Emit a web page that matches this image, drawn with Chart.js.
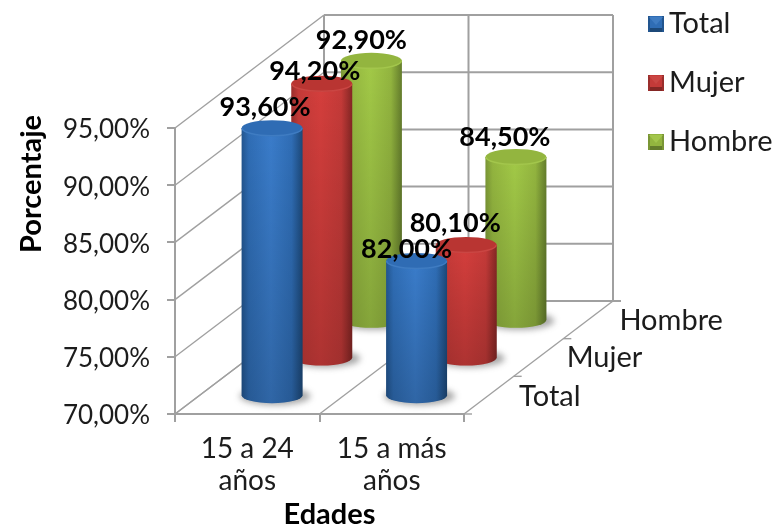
<!DOCTYPE html>
<html><head><meta charset="utf-8">
<script src="https://cdn.jsdelivr.net/npm/chart.js@4"></script>
<style>html,body{margin:0;padding:0;background:#fff}canvas{display:block}</style>
</head><body>
<canvas id="c" width="775" height="527"></canvas>
<script>
const categories = ['15 a 24|años', '15 a más|años'];
const seriesNames = ['Total', 'Mujer', 'Hombre'];
const totalValues = [93.6, 82.0];
const mujerValues = [94.2, 80.1];
const hombreValues = [92.9, 84.5];
const yTicksMin = 70, yTicksMax = 95, yTicksStep = 5;

const FONT = 'Lato, "Open Sans", sans-serif';
const TXT = '#1c1c1c', GRID = '#a0a0a0';
const DEPTH_X = 149, DEPTH_Y = 113, RY = 8, TOP_DROP = 3;
const palette = [
  {base:'#2f6db5', edgeL:'#22558f', mid:'#3a7cca', edgeR:'#1c4878', top:'#2f6cb4', rim:'#3f7cc2'},
  {base:'#c43a38', edgeL:'#9a2e2c', mid:'#d43e3c', edgeR:'#842624', top:'#b93532', rim:'#ca4643'},
  {base:'#93b53f', edgeL:'#7a9635', mid:'#a2c947', edgeR:'#647d2c', top:'#93b53f', rim:'#a3c64c'}
];
const labelNudge = [[[-7,-21],[-10,-12]],[[-7,-12],[-11,-22]],[[-10,-21],[-11,-20]]];
const depthLabelNudge = [[61,1],[66,0],[83,1]];

function fmt(v){ return v.toFixed(2).replace('.', ',') + '%'; }

function marker(p){
  const c = document.createElement('canvas'); c.width = 20; c.height = 16;
  const g = c.getContext('2d');
  g.translate(4, 0);
  g.fillStyle = p.base; g.fillRect(0,0,16,16);
  g.fillStyle = p.edgeR; g.fillRect(0,12,16,4);
  g.fillStyle = p.edgeL; g.fillRect(0,0,2,16); g.fillRect(14,0,2,16);
  g.fillStyle = p.rim; g.beginPath(); g.moveTo(1,1); g.lineTo(15,1); g.lineTo(8,9); g.closePath(); g.fill();
  return c;
}
const markers = palette.map(marker);

function line(ctx,x1,y1,x2,y2){ ctx.beginPath(); ctx.moveTo(x1,y1); ctx.lineTo(x2,y2); ctx.stroke(); }

function drawCylinder(chart, el, i){
  const ctx = chart.ctx;
  const p = palette[i];
  const f = (i + .5) / 3;
  const zero = chart.scales.y.getPixelForValue(yTicksMin);
  const cx = el.x + DEPTH_X * f;
  const by = zero - DEPTH_Y * f;
  const ty = el.y - DEPTH_Y * f + TOP_DROP;
  const rx = el.width / 2;
  ctx.save();
  ctx.filter = 'blur(3px)';
  ctx.fillStyle = 'rgba(60,60,60,.45)';
  ctx.beginPath(); ctx.ellipse(cx + 3, by + 1, rx + 5, RY + 1, 0, 0, Math.PI * 2); ctx.fill();
  ctx.restore();

  const g = ctx.createLinearGradient(cx - rx, 0, cx + rx, 0);
  g.addColorStop(0, p.edgeL); g.addColorStop(.12, p.base); g.addColorStop(.48, p.mid);
  g.addColorStop(.82, p.base); g.addColorStop(1, p.edgeR);
  ctx.beginPath();
  ctx.moveTo(cx - rx, ty);
  ctx.lineTo(cx - rx, by);
  ctx.ellipse(cx, by, rx, RY, 0, Math.PI, 0, true);
  ctx.lineTo(cx + rx, ty);
  ctx.closePath();
  ctx.fillStyle = g; ctx.fill();
  const v = ctx.createLinearGradient(0, ty, 0, by + RY);
  v.addColorStop(0, 'rgba(0,0,0,0)'); v.addColorStop(1, 'rgba(0,0,0,.18)');
  ctx.fillStyle = v; ctx.fill();

  ctx.beginPath(); ctx.ellipse(cx, ty, rx, RY, 0, 0, Math.PI * 2);
  ctx.fillStyle = p.top; ctx.fill();
  ctx.beginPath(); ctx.ellipse(cx, ty, rx - .5, RY - .5, 0, 0, Math.PI);
  ctx.strokeStyle = p.rim; ctx.lineWidth = 1.5; ctx.stroke();
}

function shiftTitle(s, dx, dy){
  if (s._shifted) return;
  s._shifted = true;
  const orig = s.drawTitle;
  s.drawTitle = function(){ const c = this.ctx; c.save(); c.translate(dx, dy); orig.apply(this, arguments); c.restore(); };
}

const plugin3d = {
  id: 'plugin3d',
  afterLayout(chart){
    chart.legend.left = 623.5; chart.legend.top = -20.5;
    chart.legend.right = 775; chart.legend.bottom = 200;
    shiftTitle(chart.scales.y, 0, -87);
    shiftTitle(chart.scales.x, 10, 5);
  },
  beforeDatasetsDraw(chart){
    const {ctx, scales:{x, y}} = chart;
    const f = y.getPixelForValue(yTicksMin);
    const t = y.getPixelForValue(yTicksMax);
    ctx.save();
    ctx.strokeStyle = GRID; ctx.lineWidth = 2;
    const edges = [x.left, (x.left + x.right) / 2, x.right];
    y.ticks.forEach(tk => {
      const py = y.getPixelForValue(tk.value);
      line(ctx, x.left + DEPTH_X, py - DEPTH_Y, x.right + DEPTH_X, py - DEPTH_Y);
    });
    edges.forEach(ex => line(ctx, ex + DEPTH_X, t - DEPTH_Y, ex + DEPTH_X, f - DEPTH_Y));
    line(ctx, x.right + DEPTH_X, f - DEPTH_Y, x.right + DEPTH_X + 8, f - DEPTH_Y);
    ctx.lineWidth = 1.4;
    y.ticks.forEach(tk => {
      const py = y.getPixelForValue(tk.value);
      line(ctx, x.left, py, x.left + DEPTH_X, py - DEPTH_Y);
    });
    edges.forEach(ex => line(ctx, ex, f, ex + DEPTH_X, f - DEPTH_Y));
    for (let k = 0; k < 3; k++) {
      const dx = x.right + DEPTH_X * k / 3, dy = f - DEPTH_Y * k / 3;
      line(ctx, dx, dy, dx + 8, dy);
    }
    ctx.fillStyle = TXT; ctx.font = '29px ' + FONT; ctx.textAlign = 'center'; ctx.textBaseline = 'middle';
    seriesNames.forEach((n, k) => {
      const m = (k + .5) / 3;
      ctx.fillText(n, x.right + DEPTH_X * m + depthLabelNudge[k][0], f - DEPTH_Y * m + depthLabelNudge[k][1]);
    });
    ctx.restore();
  },
  beforeDatasetDraw(chart, args){
    chart.getDatasetMeta(args.index).data.forEach(el => drawCylinder(chart, el, args.index));
    return false;
  },
  afterDatasetsDraw(chart){
    const ctx = chart.ctx;
    ctx.save();
    ctx.fillStyle = '#000'; ctx.font = 'bold 27px ' + FONT; ctx.textAlign = 'center'; ctx.textBaseline = 'middle';
    [0,1,2].forEach(i => {
      const m = (i + .5) / 3;
      chart.getDatasetMeta(i).data.forEach((el, j) => {
        const topY = el.y - DEPTH_Y * m + TOP_DROP;
        const v = chart.data.datasets[i].data[j];
        ctx.fillText(fmt(v), el.x + DEPTH_X * m + labelNudge[i][j][0], topY + labelNudge[i][j][1]);
      });
    });
    ctx.restore();
  }
};

new Chart(document.getElementById('c'), {
  type: 'bar',
  plugins: [plugin3d],
  data: {
    labels: categories.map(s => s.split('|')),
    datasets: [
      {label: seriesNames[0], data: totalValues, backgroundColor: palette[0].base},
      {label: seriesNames[1], data: mujerValues, backgroundColor: palette[1].base},
      {label: seriesNames[2], data: hombreValues, backgroundColor: palette[2].base}
    ]
  },
  options: {
    responsive: false, animation: false,
    layout: {padding: {top: 128, right: 311, left: 0, bottom: 0}},
    datasets: {bar: {grouped: false, categoryPercentage: 1, barPercentage: 0.422, clip: false}},
    plugins: {
      tooltip: {enabled: false},
      title: {display: false},
      legend: {
        position: 'chartArea', align: 'start',
        labels: {
          usePointStyle: true, boxWidth: 1, boxHeight: 1, padding: 30,
          color: TXT, font: {family: FONT, size: 29},
          generateLabels(chart){
            return Chart.defaults.plugins.legend.labels.generateLabels(chart)
              .map((l, i) => Object.assign(l, {pointStyle: markers[i], fontColor: TXT}));
          }
        }
      }
    },
    scales: {
      x: {
        afterFit(s){ s.height = 113; },
        grid: {offset: true, drawOnChartArea: false, color: GRID, lineWidth: 2, tickLength: 8},
        border: {color: GRID, width: 2},
        ticks: {color: TXT, font: {family: FONT, size: 28, lineHeight: 1.15}, padding: 11, maxRotation: 0, autoSkip: false},
        title: {display: true, text: 'Edades', color: '#000', font: {family: FONT, size: 29, weight: 'bold'}, padding: {top: 0, bottom: 0}}
      },
      y: {
        min: yTicksMin, max: yTicksMax,
        afterFit(s){ s.width = 175; },
        grid: {drawOnChartArea: false, color: GRID, lineWidth: 2, tickLength: 8},
        border: {color: GRID, width: 2},
        ticks: {stepSize: yTicksStep, color: TXT, font: {family: FONT, size: 26}, padding: 17, labelOffset: 2, callback: v => fmt(v)},
        title: {display: true, text: 'Porcentaje', color: '#000', font: {family: FONT, size: 29, weight: 'bold'}, padding: {top: 14, bottom: 0}}
      }
    }
  }
});
</script>
</body></html>
